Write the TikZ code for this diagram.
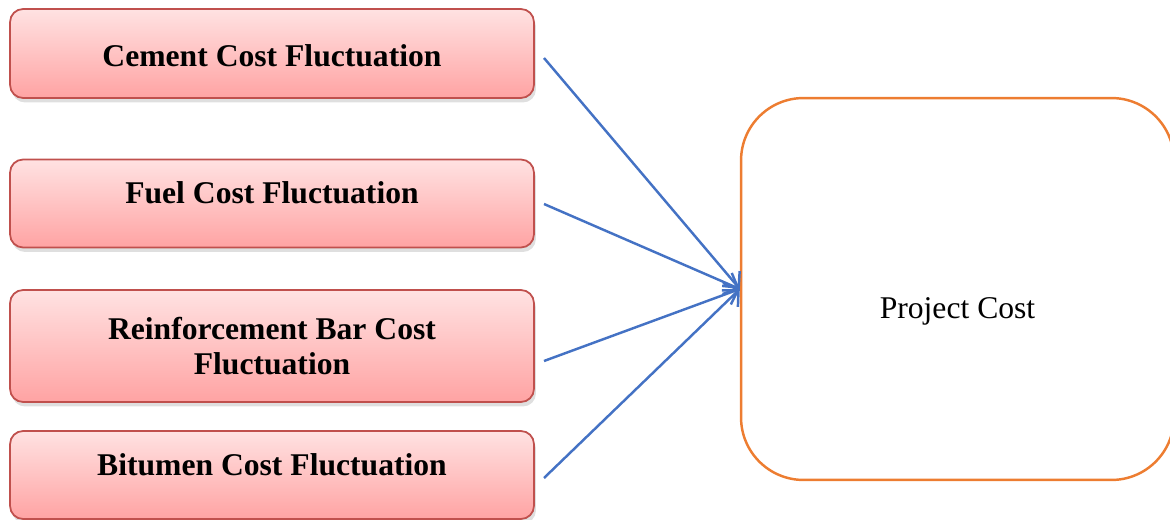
\documentclass[tikz,border=0pt]{standalone}
\usepackage{fontspec}
\setmainfont{Liberation Serif}
\usepackage{xcolor}
\usepackage{tikz}
\usetikzlibrary{arrows.meta,positioning,shadows}

\definecolor{pinktop}{RGB}{255,226,226}
\definecolor{pinkbot}{RGB}{255,163,163}
\definecolor{boxred}{RGB}{192,80,77}
\definecolor{linkblue}{RGB}{68,114,196}
\definecolor{projorange}{RGB}{237,125,49}

\begin{document}
\begin{tikzpicture}[x=0.02cm, y=-0.02cm, >={Straight Barb[length=2.4mm,width=4.6mm]},
  every node/.style={font=\fontsize{18}{20}\selectfont},
  cause/.style={rectangle, rounded corners=2.6mm, draw=boxred, line width=1pt, top color=pinktop, bottom color=pinkbot, minimum width=10.48cm, align=center, font=\fontsize{18}{20}\selectfont\bfseries, drop shadow={opacity=0.25, shadow xshift=0.4mm, shadow yshift=-0.9mm}},
  raised/.style={text height=0.44cm, text depth=0.42cm},
  link/.style={->, draw=linkblue, line width=1.4pt}]
\useasboundingbox (0,0) rectangle (1170,520);
\node[cause, text height=0.52cm, text depth=0cm, minimum height=1.78cm] (cem) at (272,53.5) {Cement Cost Fluctuation};
\node[cause, raised, minimum height=1.76cm] (fuel) at (272,203.5) {Fuel Cost Fluctuation};
\node[cause, minimum height=2.24cm] (rebar) at (272,346) {Reinforcement Bar Cost\\Fluctuation};
\node[cause, raised, minimum height=1.76cm] (bit) at (272,475) {Bitumen Cost Fluctuation};
\node[rectangle, rounded corners=1.25cm, draw=projorange, line width=1.4pt, minimum width=8.66cm, minimum height=7.64cm, text height=1.32cm] (proj) at (957.5,289) {Project Cost};
% start points of the links
\coordinate (s1) at (544,58);
\coordinate (s2) at (544,204);
\coordinate (s3) at (544,361);
\coordinate (s4) at (544,478);
\foreach \s in {s1,s2,s3,s4}{
  \draw[link] (\s) -- (proj.west);
}
\end{tikzpicture}
\end{document}
